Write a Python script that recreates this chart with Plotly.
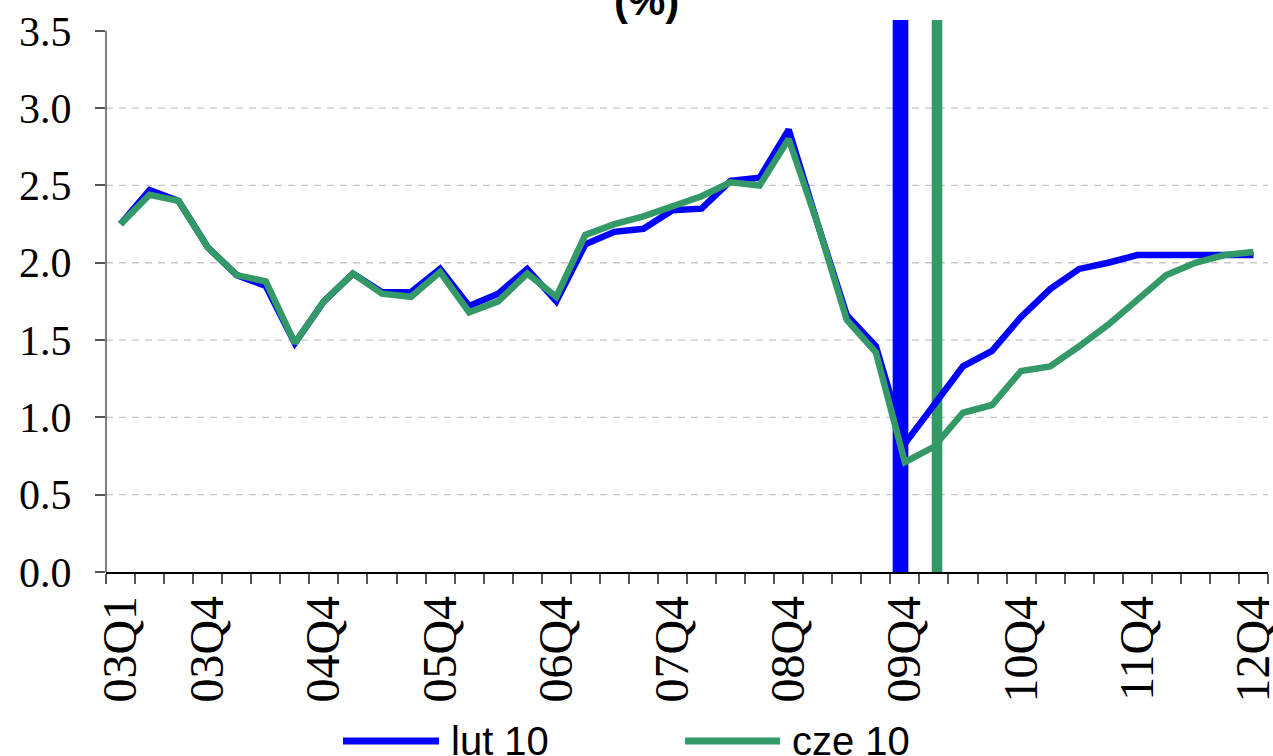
import plotly.graph_objects as go

# ---------------- data ----------------
quarters = [f"{y:02d}Q{q}" for y in range(3, 13) for q in range(1, 5)]
shown_labels = ["03Q1", "03Q4", "04Q4", "05Q4", "06Q4", "07Q4",
                "08Q4", "09Q4", "10Q4", "11Q4", "12Q4"]

series_names = ["lut 10", "cze 10"]
series_colors = ["#0000FF", "#339966"]

lut10 = [2.25, 2.47, 2.40, 2.10, 1.92, 1.85, 1.48, 1.75, 1.93, 1.81,
         1.81, 1.96, 1.72, 1.80, 1.96, 1.75, 2.12, 2.20, 2.22, 2.34,
         2.35, 2.53, 2.55, 2.86, 2.25, 1.66, 1.46, 0.83, 1.08, 1.33,
         1.43, 1.65, 1.83, 1.96, 2.00, 2.05, 2.05, 2.05, 2.05, 2.05]
cze10 = [2.25, 2.44, 2.40, 2.10, 1.92, 1.88, 1.48, 1.75, 1.93, 1.80,
         1.78, 1.94, 1.68, 1.75, 1.93, 1.78, 2.18, 2.25, 2.30, 2.37,
         2.43, 2.52, 2.50, 2.80, 2.25, 1.63, 1.42, 0.71, 0.81, 1.03,
         1.08, 1.30, 1.33, 1.46, 1.60, 1.76, 1.92, 2.00, 2.05, 2.07]

# forecast-start markers (one per projection round)
marker_quarters = ["09Q4", "10Q1"]
marker_heights = [3.6, 3.6]

y_ticks = [0.0, 0.5, 1.0, 1.5, 2.0, 2.5, 3.0, 3.5]
grid_vals = [0.5, 1.0, 1.5, 2.0, 2.5, 3.0]
title_text = "(%)"

SERIF = "Liberation Serif, Times New Roman, serif"
SANS = "Arial, Liberation Sans, sans-serif"

# ---------------- figure ----------------
x_idx = list(range(len(quarters)))
fig = go.Figure()

bar_geom = [(-0.42, 0.54), (-0.076, 0.365)]
for q, h, col, (off, w) in zip(marker_quarters, marker_heights, series_colors, bar_geom):
    fig.add_trace(go.Bar(x=[quarters.index(q)], y=[h], width=[w], offset=[off],
                         marker=dict(color=col, line=dict(width=0)),
                         showlegend=False, hoverinfo="skip"))

for name, vals, col in zip(series_names, [lut10, cze10], series_colors):
    fig.add_trace(go.Scatter(x=x_idx, y=vals, mode="lines", name=name,
                             line=dict(color=col, width=6.5),
                             showlegend=False))

W, H = 1273, 756
L, R, T, B = 106, 5, 20, 184
pw, ph = W - L - R, H - T - B


def px_x(p):
    return (p - L) / pw


def px_y(p):
    return (H - B - p) / ph


shapes = []
for v in grid_vals:
    shapes.append(dict(type="line", xref="paper", yref="y", x0=0, x1=1, y0=v, y1=v,
                       line=dict(color="#c8c8c8", width=1.3, dash="7px,6px"),
                       layer="below"))
shapes.append(dict(type="line", xref="paper", yref="y", x0=0, x1=0, y0=0, y1=y_ticks[-1],
                   line=dict(color="#555555", width=1.5)))

# custom legend
leg_items = [(343, 439, 449), (685, 780, 790)]
annotations = []
for (x0, x1, xt), name, col in zip(leg_items, series_names, series_colors):
    shapes.append(dict(type="line", xref="paper", yref="paper",
                       x0=px_x(x0), x1=px_x(x1), y0=px_y(741), y1=px_y(741),
                       line=dict(color=col, width=7)))
    annotations.append(dict(text=name, xref="paper", yref="paper", x=px_x(xt),
                            y=px_y(741), xanchor="left", yanchor="middle",
                            showarrow=False,
                            font=dict(family=SANS, size=40, color="black")))

annotations.append(dict(text="<b>" + title_text + "</b>", xref="paper", yref="paper",
                        x=px_x(646), y=px_y(26), xanchor="center", yanchor="bottom",
                        showarrow=False,
                        font=dict(family=SANS, size=42, color="black")))

fig.update_layout(
    width=W, height=H,
    margin=dict(l=L, r=R, t=T, b=B),
    paper_bgcolor="white", plot_bgcolor="white",
    barmode="overlay", showlegend=False,
    shapes=shapes, annotations=annotations,
    xaxis=dict(range=[-0.5, len(quarters) - 0.5], automargin=False,
               tickmode="array",
               tickvals=[quarters.index(l) for l in shown_labels],
               ticktext=shown_labels, tickangle=-90,
               ticklabeloverflow="allow",
               ticks="outside", ticklen=3, tickcolor="rgba(0,0,0,0)",
               minor=dict(tickvals=[i - 0.5 for i in range(len(quarters) + 1)],
                          ticks="outside", ticklen=10, tickcolor="#555555", tickwidth=1.5),
               showline=True, linecolor="black", linewidth=1.5,
               showgrid=False, zeroline=False,
               tickfont=dict(family=SERIF, size=48, color="black")),
    yaxis=dict(range=[0, 3.57], tickmode="array", tickvals=y_ticks, automargin=False,
               ticktext=[f"{v:.1f}" for v in y_ticks],
               ticks="outside", ticklen=10, tickcolor="#555555", tickwidth=1.5,
               ticklabelstandoff=15, ticklabeloverflow="allow",
               showline=False, showgrid=False, zeroline=False,
               tickfont=dict(family=SERIF, size=42, color="black")),
)

fig.write_html("out.html", config={"displayModeBar": False},
               post_script="document.body.style.margin='0';document.body.style.overflow='hidden';")
